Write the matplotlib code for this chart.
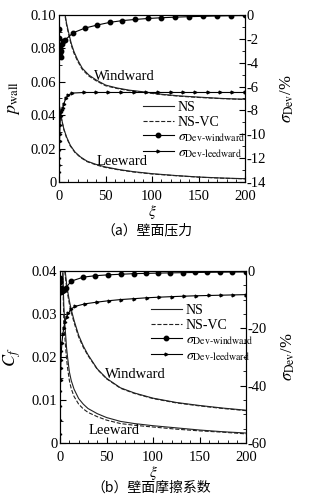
import numpy as np
import matplotlib
matplotlib.use("Agg")
import matplotlib.pyplot as plt
from matplotlib.ticker import MultipleLocator, FuncFormatter
from matplotlib.lines import Line2D

plt.rcParams['font.family'] = ['Liberation Serif', 'Noto Sans CJK SC']
plt.rcParams['mathtext.fontset'] = 'stix'
plt.rcParams['font.size'] = 10

# --- (a) wall pressure ---
xi_pw = [4, 5, 6.5, 8, 10, 13, 16, 20, 25, 32, 40, 50, 62, 75, 90, 110, 130, 150, 175, 200]
p_wind_ns = [0.13, 0.115, 0.1, 0.095, 0.09, 0.083, 0.078, 0.073, 0.068, 0.064, 0.061, 0.058,
             0.0563, 0.055, 0.054, 0.0525, 0.0515, 0.0508, 0.0500, 0.0495]
p_wind_vc = [0.129, 0.114, 0.099, 0.094, 0.089, 0.082, 0.077, 0.0722, 0.0673, 0.0634, 0.0605, 0.0576,
             0.056, 0.0547, 0.0537, 0.0523, 0.0513, 0.0506, 0.0499, 0.0494]
xi_pl = [0, 0.5, 1, 2, 3, 5, 8, 12, 17, 23, 30, 40, 50, 65, 80, 100, 125, 150, 175, 200]
p_lee_ns = [0.046, 0.045, 0.043, 0.040, 0.037, 0.032, 0.027, 0.022, 0.018, 0.015, 0.0125, 0.0105,
            0.009, 0.0074, 0.0062, 0.005, 0.0039, 0.003, 0.0024, 0.002]
p_lee_vc = [0.046, 0.045, 0.0428, 0.0396, 0.0365, 0.0315, 0.0265, 0.0216, 0.0177, 0.0147, 0.0122, 0.0102,
            0.0087, 0.0072, 0.006, 0.0048, 0.0038, 0.0029, 0.0023, 0.0019]

xi_sw_a = [0, 0.3, 0.6, 1, 1.5, 2, 3, 4, 6.5, 15, 28, 41, 55, 68, 82, 96, 110, 125, 140, 155, 170, 185, 200]
sig_wind_a = [-1.2, -1.9, -2.8, -3.2, -3.5, -3.0, -2.4, -2.2, -2.1, -1.5, -1.1, -0.85, -0.62, -0.48,
              -0.38, -0.3, -0.24, -0.19, -0.15, -0.12, -0.09, -0.07, -0.05]
xi_sl_a = [0, 0.1, 0.2, 0.35, 0.5, 0.7, 1, 1.5, 2, 3, 4, 5, 7, 10, 14, 27, 40, 53, 66, 80, 93, 106,
           120, 133, 146, 160, 173, 186, 200]
sig_lee_a = [-13.2, -12.6, -12, -11.3, -10.6, -10, -9.2, -8.5, -8.1, -8.0, -7.8, -7.5, -7.0, -6.7, -6.55,
             -6.5, -6.5, -6.5, -6.5, -6.5, -6.5, -6.5, -6.5, -6.5, -6.5, -6.5, -6.5, -6.5, -6.5]

# --- (b) wall friction coefficient ---
xi_cw = [4, 5, 6, 7, 8, 10, 12, 15, 20, 25, 30, 40, 50, 65, 80, 100, 125, 150, 175, 200]
cf_wind_ns = [0.045, 0.041, 0.039, 0.037, 0.0355, 0.033, 0.031, 0.0285, 0.025, 0.0225, 0.0205, 0.0172,
              0.015, 0.0128, 0.0116, 0.0104, 0.0094, 0.0087, 0.0081, 0.0076]
cf_wind_vc = [0.044, 0.040, 0.038, 0.0362, 0.0347, 0.0323, 0.0304, 0.028, 0.0246, 0.0222, 0.0203, 0.0171,
              0.0149, 0.0127, 0.0115, 0.0103, 0.0093, 0.0086, 0.008, 0.0075]
xi_cl = [2.5, 3, 3.5, 4, 5, 6, 7, 8, 10, 12, 15, 20, 25, 30, 40, 50, 65, 80, 100, 125, 150, 175, 200]
cf_lee_ns = [0.045, 0.04, 0.036, 0.032, 0.028, 0.025, 0.022, 0.020, 0.0165, 0.0145, 0.0125, 0.0103,
             0.0090, 0.0080, 0.0068, 0.0059, 0.0050, 0.0045, 0.0040, 0.0035, 0.0030, 0.0026, 0.0023]
cf_lee_vc = [0.045, 0.038, 0.033, 0.029, 0.025, 0.022, 0.0195, 0.0175, 0.0145, 0.0126, 0.0108, 0.0090,
             0.0079, 0.0071, 0.0061, 0.0053, 0.0045, 0.0041, 0.0037, 0.0032, 0.0028, 0.0025, 0.0021]

xi_sw_b = [0, 0.3, 0.6, 1, 1.5, 2, 3, 4, 6, 12, 25, 38, 52, 65, 79, 92, 105, 118, 132, 145, 158, 172, 185, 200]
sig_wind_b = [-2.5, -4, -6, -7.5, -7.2, -7.0, -6.8, -6.6, -6.0, -3.6, -2.2, -1.7, -1.4, -1.2, -1.0, -0.9,
              -0.8, -0.72, -0.65, -0.58, -0.52, -0.47, -0.42, -0.38]
xi_sl_b = [0, 0.1, 0.2, 0.35, 0.5, 0.7, 1, 1.4, 2, 3, 4, 5, 7, 9, 12, 16, 27, 40, 53, 66, 80, 93, 106,
           120, 133, 146, 160, 173, 186, 200]
sig_lee_b = [-57, -52, -47, -42, -38, -34, -31, -28, -25, -22, -20, -18, -16, -14.8, -13.3, -12.4, -11.5,
             -10.9, -10.4, -10.0, -9.7, -9.4, -9.2, -9.0, -8.85, -8.7, -8.6, -8.5, -8.4, -8.3]

fmt_left = FuncFormatter(lambda v, p: "0" if abs(v) < 1e-9 else f"{v:.2f}")
fmt_right = FuncFormatter(lambda v, p: f"{int(round(v))}")

fig = plt.figure(figsize=(3.23, 4.96), dpi=100)


def panel(rect, xa, ya_ns, ya_vc, xb, yb_ns, yb_vc, xs1, s1, xs2, s2,
          ylim, ymaj, ymin, rlim, rmaj, rmin, ylab, xlab_y, legpos, txt_w, txt_l):
    ax = fig.add_axes(rect)
    lc = '#222222'
    ax.plot(xa, ya_ns, '-', color=lc, lw=0.8)
    ax.plot(xa, ya_vc, '--', color=lc, lw=0.8)
    ax.plot(xb, yb_ns, '-', color=lc, lw=0.8)
    ax.plot(xb, yb_vc, '--', color=lc, lw=0.8)
    ax.set_xlim(0, 200)
    ax.set_ylim(*ylim)
    ax.xaxis.set_major_locator(MultipleLocator(50))
    ax.xaxis.set_minor_locator(MultipleLocator(10))
    ax.yaxis.set_major_locator(MultipleLocator(ymaj))
    ax.yaxis.set_minor_locator(MultipleLocator(ymin))
    ax.yaxis.set_major_formatter(fmt_left)
    ax.tick_params(which='both', direction='in', top=False, right=False, labelsize=10.5)
    ax.tick_params(axis='y', pad=2)
    ax.tick_params(axis='x', pad=6)
    ax.tick_params(which='major', length=4)
    ax.tick_params(which='minor', length=2)
    ax.set_xlabel(r"$\xi$", fontsize=11)
    ax.xaxis.set_label_coords(0.5, xlab_y)
    ax.set_ylabel(ylab, fontsize=13)
    ax.yaxis.set_label_coords(-0.2, 0.5)
    ax.text(txt_w[0], txt_w[1], "Windward", va='center', fontsize=10.5)
    ax.text(txt_l[0], txt_l[1], "Leeward", va='center', fontsize=10.5)

    ax2 = ax.twinx()
    ax2.plot(xs1, s1, '-', color='k', lw=0.8, marker='o', ms=3.2)
    ax2.plot(xs2, s2, '-', color='k', lw=0.8, marker='>', ms=2)
    ax2.set_ylim(*rlim)
    ax2.yaxis.set_major_locator(MultipleLocator(rmaj))
    ax2.yaxis.set_minor_locator(MultipleLocator(rmin))
    ax2.yaxis.set_major_formatter(fmt_right)
    ax2.tick_params(which='both', direction='in', labelsize=10.5, pad=1)
    ax2.tick_params(which='major', length=4)
    ax2.tick_params(which='minor', length=2)
    ax2.set_ylabel(r"$\sigma_{\mathrm{Dev}}$/%", fontsize=12, rotation=90)
    ax2.yaxis.set_label_coords(1.18, 0.5)
    for a in (ax, ax2):
        for s in a.spines.values():
            s.set_linewidth(0.8)

    handles = [
        Line2D([], [], color=lc, lw=0.8, ls='-'),
        Line2D([], [], color=lc, lw=0.8, ls='--'),
        Line2D([], [], color='k', lw=0.8, marker='o', ms=3.2),
        Line2D([], [], color='k', lw=0.8, marker='>', ms=2),
    ]
    labels = ["NS", "NS-VC", r"$\sigma_{\mathrm{Dev\text{-}windward}}$",
              r"$\sigma_{\mathrm{Dev\text{-}leedward}}$"]
    ax2.legend(handles, labels, loc='upper left', bbox_to_anchor=legpos,
               bbox_transform=fig.transFigure, frameon=False, fontsize=10,
               handlelength=2.2, handletextpad=0.3, labelspacing=0.12,
               borderpad=0, borderaxespad=0, numpoints=1)
    return ax, ax2


panel([0.183, 0.633, 0.576, 0.337], xi_pw, p_wind_ns, p_wind_vc, xi_pl, p_lee_ns, p_lee_vc,
      xi_sw_a, sig_wind_a, xi_sl_a, sig_lee_a,
      (0, 0.1), 0.02, 0.01, (-14, 0), 2, 1, r"$p_{\mathrm{wall}}$", -0.125,
      (143 / 323, 1 - 101 / 496), (38, 0.063), (40, 0.012))

panel([0.186, 0.107, 0.576, 0.347], xi_cw, cf_wind_ns, cf_wind_vc, xi_cl, cf_lee_ns, cf_lee_vc,
      xi_sw_b, sig_wind_b, xi_sl_b, sig_lee_b,
      (0, 0.04), 0.01, 0.005, (-60, 0), 20, 5, r"$C_f$", -0.125,
      (151 / 323, 1 - 304 / 496), (48, 0.016), (31, 0.003))

fig.text(147 / 323, 1 - 230 / 496, "（a）壁面压力", ha='center', va='center', fontsize=10,
         family=['Noto Sans CJK SC', 'Liberation Serif'])
fig.text(151 / 323, 1 - 488 / 496, "（b）壁面摩擦系数", ha='center', va='center', fontsize=10,
         family=['Noto Sans CJK SC', 'Liberation Serif'])

fig.savefig("out.png", dpi=100)
